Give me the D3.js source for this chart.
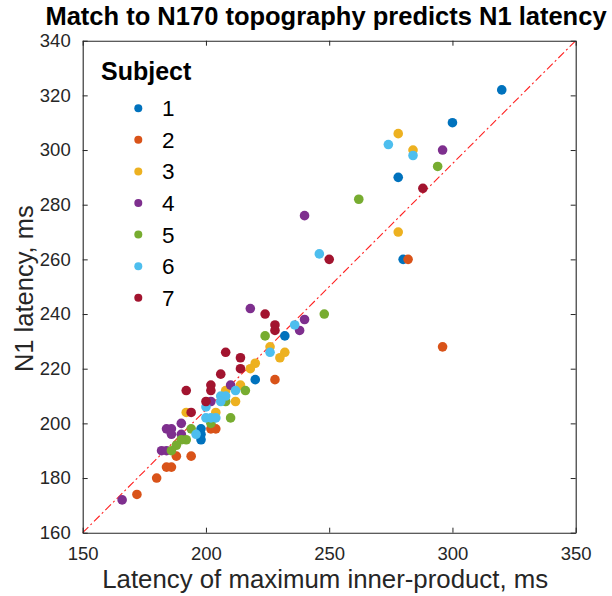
<!DOCTYPE html>
<html><head><meta charset="utf-8">
<script src="https://cdn.jsdelivr.net/npm/d3@7"></script>
<style>html,body{margin:0;padding:0;background:#fff;}svg{display:block;font-family:"Liberation Sans",Arial,Helvetica,sans-serif;}</style>
</head><body><svg id="c" width="612" height="596"></svg>
<script>
const subjects = ["1","2","3","4","5","6","7"];
const colors = ["#0072BD","#D95319","#EDB120","#7E2F8E","#77AC30","#4DBEEE","#A2142F"];
const s1x = [320,300,278,280,232,220,198,198,198];
const s1y = [322,310,290,260,232,216,198,196,194];
const s2x = [282,296,228,202,204,188,194,184,186,180,172];
const s2y = [260,228,216,198,198,188,188,184,184,180,174];
const s3x = [278,284,278,226,232,230,220,218,214,208,212,204,192];
const s3y = [306,300,270,228,226,224,222,220,214,212,208,204,204];
const s4x = [296,240,218,240,238,210,202,190,184,186,186,190,182,184,166];
const s4y = [300,276,242,238,234,214,208,200,198,198,196,196,190,190,172];
const s5x = [294,262,248,224,216,208,210,202,194,192,190,188,186];
const s5y = [294,282,240,232,212,208,202,200,198,194,194,192,190];
const s6x = [274,284,246,236,226,212,206,208,206,200,200,202,204,196];
const s6y = [302,298,262,236,226,212,210,210,208,206,202,202,202,196];
const s7x = [288,250,224,228,228,208,214,214,206,202,202,192,200,194];
const s7y = [286,260,240,236,234,226,224,220,218,214,212,212,208,204];
const xTicks = [150,200,250,300,350];
const yTicks = [160,180,200,220,240,260,280,300,320,340];
const xDomain = [150,350], yDomain = [160,340];

const allX = [s1x,s2x,s3x,s4x,s5x,s6x,s7x];
const allY = [s1y,s2y,s3y,s4y,s5y,s6y,s7y];

const L = 82.7, R = 575.7, T = 40.7, B = 532.7;
const svg = d3.select("#c");
const x = d3.scaleLinear().domain(xDomain).range([L,R]);
const y = d3.scaleLinear().domain(yDomain).range([B,T]);
const axCol = "#262626";

const g = svg.append("g");
g.append("line")
  .attr("x1", x(xDomain[0])).attr("y1", y(yDomain[0]))
  .attr("x2", x(xDomain[1])).attr("y2", y(yDomain[1]))
  .attr("stroke","#ff2020").attr("stroke-width",1.1)
  .attr("stroke-dasharray","8,3,2,3");

subjects.forEach((s,i)=>{
  g.append("g").selectAll("circle").data(allX[i].map((v,j)=>[v,allY[i][j]]))
    .join("circle").attr("cx",d=>x(d[0])).attr("cy",d=>y(d[1])).attr("r",4.8)
    .attr("fill",colors[i]);
});

const fs = "18.5px";
const xb = svg.append("g").attr("transform",`translate(0,${B})`)
  .call(d3.axisBottom(x).tickValues(xTicks).tickSizeInner(-5).tickSizeOuter(0).tickPadding(14));
const xt = svg.append("g").attr("transform",`translate(0,${T})`)
  .call(d3.axisTop(x).tickValues(xTicks).tickSizeInner(-5).tickSizeOuter(0).tickFormat(""));
const yl = svg.append("g").attr("transform",`translate(${L},0)`)
  .call(d3.axisLeft(y).tickValues(yTicks).tickSizeInner(-5).tickSizeOuter(0).tickPadding(12));
const yr = svg.append("g").attr("transform",`translate(${R},0)`)
  .call(d3.axisRight(y).tickValues(yTicks).tickSizeInner(-5).tickSizeOuter(0).tickFormat(""));
[xb,xt,yl,yr].forEach(a=>{
  a.select(".domain").attr("stroke",axCol).attr("stroke-width",1.1);
  a.selectAll(".tick line").attr("stroke",axCol).attr("stroke-width",1);
  a.selectAll("text").attr("fill",axCol).style("font-size",fs).style("font-family","Liberation Sans, Arial, sans-serif");
});

svg.append("text").attr("x",326).attr("y",25).attr("text-anchor","middle")
  .style("font-size","25.5px").style("font-weight","bold").attr("fill","#000")
  .text("Match to N170 topography predicts N1 latency");
svg.append("text").attr("x",(L+R)/2-4).attr("y",588).attr("text-anchor","middle")
  .style("font-size","25.8px").attr("fill",axCol)
  .text("Latency of maximum inner-product, ms");
svg.append("text").attr("transform",`translate(33,${(T+B)/2+2}) rotate(-90)`).attr("text-anchor","middle")
  .style("font-size","25.5px").attr("fill",axCol)
  .text("N1 latency, ms");

const lg = svg.append("g");
lg.append("text").attr("x",101).attr("y",80).style("font-size","25px").style("font-weight","bold")
  .attr("fill","#000").text("Subject");
subjects.forEach((s,i)=>{
  const cy = 108.3 + i*31.57;
  lg.append("circle").attr("cx",138.3).attr("cy",cy).attr("r",4).attr("fill",colors[i]);
  lg.append("text").attr("x",162).attr("y",cy+8).style("font-size","22.5px").attr("fill","#000").text(s);
});
</script></body></html>
